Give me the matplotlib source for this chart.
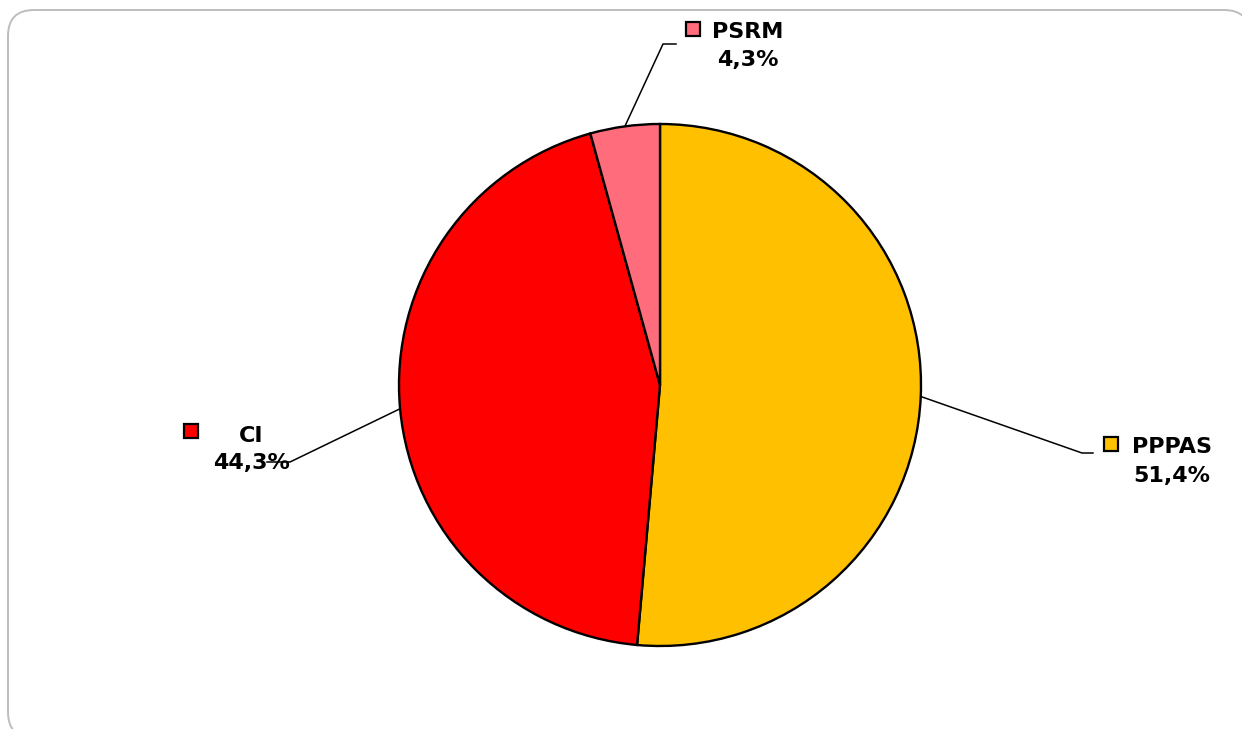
import numpy as np
import matplotlib
matplotlib.use("Agg")
import matplotlib.pyplot as plt
from matplotlib.patches import FancyBboxPatch, Rectangle

# Data
categories = ["PPPAS", "CI", "PSRM"]
shares = [51.4, 44.3, 4.3]
colors = ["#FFC000", "#FF0000", "#FF6C7C"]

W, H = 1242, 729
fig = plt.figure(figsize=(W / 100, H / 100), dpi=100)
ax = fig.add_axes([0, 0, 1, 1])
ax.set_xlim(0, W)
ax.set_ylim(0, H)
ax.set_aspect("equal")
ax.axis("off")

def py(y):  # pixel-from-top to data y
    return H - y

# Rounded frame
frame = FancyBboxPatch((8, py(738)), 1250 - 8, 738 - 10,
                       boxstyle="round,pad=0,rounding_size=26",
                       fc="white", ec="#BDBDBD", lw=1.4, zorder=0)
ax.add_patch(frame)

cx, cy, R = 660, py(385), 261
wedges, _ = ax.pie(shares, colors=colors, startangle=90, counterclock=False,
                   center=(cx, cy), radius=R, frame=True,
                   wedgeprops=dict(edgecolor="black", linewidth=1.7))
ax.set_xlim(0, W)
ax.set_ylim(0, H)
ax.axis("off")

layout = {
    "PPPAS": dict(sq=(1104, 437), tx=1172, y1=445, y2=474, elbow=(1082, 453), end=(1093, 453)),
    "CI": dict(sq=(184, 424), tx=251, y1=434, y2=461, elbow=(290, 462), end=(267, 462)),
    "PSRM": dict(sq=(686, 22), tx=748, y1=30, y2=58, elbow=(663, 44), end=(676, 44)),
}

fs = 16
for w, cat, val, col in zip(wedges, categories, shares, colors):
    L = layout[cat]
    mid = np.deg2rad((w.theta1 + w.theta2) / 2)
    sx, sy = cx + R * np.cos(mid), cy + R * np.sin(mid)
    ex, ey = L["elbow"]
    fx, fy = L["end"]
    ax.plot([sx, ex, fx], [sy, py(ey), py(fy)], color="black", lw=1.1, zorder=3)
    qx, qy = L["sq"]
    ax.add_patch(Rectangle((qx, py(qy + 14)), 14, 14, fc=col, ec="black", lw=1.6, zorder=4))
    ax.text(L["tx"], py(L["y1"]), cat, ha="center", va="center_baseline",
            fontsize=fs, fontweight="bold", family="DejaVu Sans", zorder=5)
    ax.text(L["tx"], py(L["y2"]), f"{val:.1f}%".replace(".", ","), ha="center",
            va="center_baseline", fontsize=fs, fontweight="bold", family="DejaVu Sans", zorder=5)

fig.savefig("out.png", dpi=100, facecolor="white")
